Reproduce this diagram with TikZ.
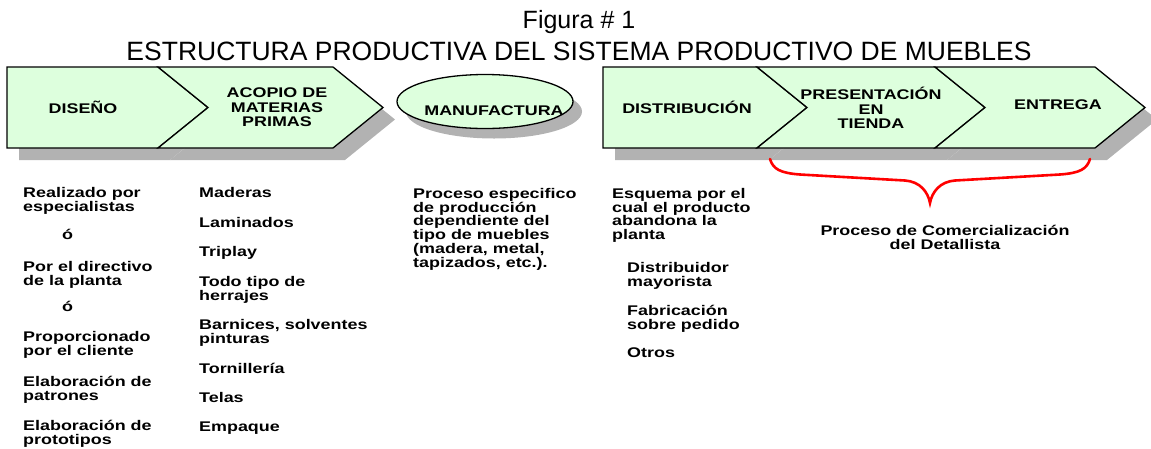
\documentclass[tikz,border=0pt]{standalone}
\usepackage{fontspec}
\setmainfont{Liberation Sans}
\newfontfamily\widefont{Liberation Sans}[FakeStretch=1.28]
\usetikzlibrary{positioning,shapes.geometric,shadows}
\definecolor{mint}{RGB}{221,255,221}
\definecolor{shadowgray}{RGB}{178,178,178}
\tikzset{
  stagebox/.style={draw=black,line width=1.3pt,fill=mint,line join=miter},
  stagetxt/.style={font=\widefont\bfseries\fontsize{14}{14.5}\selectfont,align=center,inner sep=0pt},
  notetxt/.style={font=\widefont\bfseries\fontsize{14}{13.8}\selectfont,align=left,anchor=north west,inner sep=0pt},
  titletxt/.style={inner sep=0pt,anchor=base},
  redbrace/.style={draw=red,line width=2.6pt,line cap=round}
}

\begin{document}
\begin{tikzpicture}[x=1pt,y=-1pt]
    \useasboundingbox (0,0) rectangle (1151,448);
    \node[titletxt,font=\fontsize{25}{30}\selectfont] (fig) at (579,28) {Figura \# 1};
    \node[titletxt,font=\fontsize{26.5}{30}\selectfont] (ttl) at (579,60) {ESTRUCTURA PRODUCTIVA DEL SISTEMA PRODUCTIVO DE MUEBLES};
    \foreach \a/\b/\d in {7/158/0,158/333/50,603/757/0,757/935/50,935/1095/50}
      \fill[shadowgray,shift={(12,12)}] (\a,67) -- (\b,67) -- ({\b+50},107.5) -- (\b,148) -- (\a,148) -- ({\a+\d},107.5) -- cycle;
    \foreach \a/\b/\d in {7/158/0,158/333/50,603/757/0,757/935/50,935/1095/50}
      \draw[stagebox] (\a,67) -- (\b,67) -- ({\b+50},107.5) -- (\b,148) -- (\a,148) -- ({\a+\d},107.5) -- cycle;
    \node[stagetxt] (diseno) at (83,107) {DISEÑO};
    \node[stagetxt] (acopio) at (277,107.5) {ACOPIO DE\\MATERIAS\\PRIMAS};
    \node[ellipse,stagebox,minimum width=176pt,minimum height=54pt,
      drop shadow={shadow xshift=9pt,shadow yshift=-10pt,fill=shadowgray,opacity=1}] (manuf) at (485,101.5) {};
    \node[stagetxt] (manuftxt) at (494,111) {MANUFACTURA};
    \node[stagetxt] (distrib) at (687,107) {DISTRIBUCIÓN};
    \node[stagetxt] (present) at (871,108) {PRESENTACIÓN\\EN\\TIENDA};
    \node[stagetxt] (entrega) at (1058,105) {ENTREGA};
    \foreach \x/\y/\t in {23/187/{Realizado por\\especialistas},62/229/ó,23/261/{Por el directivo\\de la planta},
      62/301/ó,23/331/{Proporcionado\\por el cliente},23/376/{Elaboración de\\patrones},23/420/{Elaboración de\\prototipos},
      199/187/Maderas,199/217/Laminados,199/246/Triplay,199/276/{Todo tipo de\\herrajes},
      199/319/{Barnices, solventes\\pinturas},199/363/Tornillería,199/392/Telas,199/422/Empaque,
      413/188/{Proceso especifico\\de producción\\dependiente del\\tipo de muebles\\(madera, metal,\\tapizados, etc.).},
      612/188/{Esquema por el\\cual el producto\\abandona la\\planta},627/262/{Distribuidor\\mayorista},
      627/305/{Fabricación\\sobre pedido},627/348/Otros}
      \node[notetxt] at (\x,\y) {\t};
    \coordinate (bl) at (770,159);
    \coordinate (br) at (1090,159);
    \coordinate (tip) at (930,203);
    \draw[redbrace] (bl) .. controls (773,169) and (780,173) .. (800,174.5) -- (905,180.5)
      .. controls (920,181.5) and (928,192) .. (tip) .. controls (932,192) and (940,181.5) .. (955,180.5)
      -- (1060,174.5) .. controls (1080,173) and (1087,169) .. (br);
    \node[stagetxt,below=22pt of tip,xshift=15pt] (retail) {Proceso de Comercialización\\del Detallista};
  \end{tikzpicture}
\end{document}
